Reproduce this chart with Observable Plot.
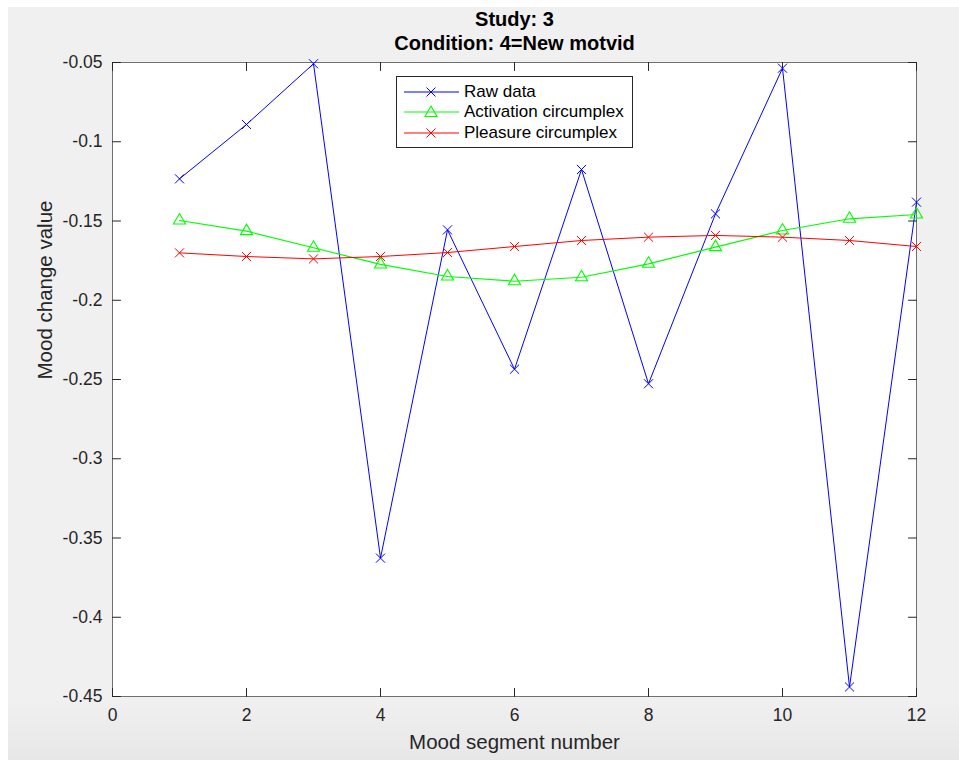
<!DOCTYPE html>
<html>
<head>
<meta charset="utf-8">
<script src="https://cdn.jsdelivr.net/npm/d3@7"></script>
<script src="https://cdn.jsdelivr.net/npm/@observablehq/plot@0.6"></script>
<style>
  html, body { margin: 0; padding: 0; background: #ffffff; }
  body { width: 959px; height: 760px; position: relative; overflow: hidden;
         font-family: "Liberation Sans", Arial, Helvetica, sans-serif; }
  #bg { position: absolute; left: 8px; top: 7px; width: 951px; height: 753px;
        background: linear-gradient(to bottom, #f0f0f0 0%, #f0f0f0 92%, #e7e7e7 100%); }
  #chart { position: absolute; left: 0; top: 0; }
  #legend { position: absolute; left: 396px; top: 76px; width: 235px; height: 70px;
            background: #ffffff; border: 1px solid #262626; font-size: 17px; color: #000; }
  .row { position: absolute; left: 0; height: 20px; width: 235px; }
  .row svg { position: absolute; left: 0; top: 0; }
  .row span { position: absolute; left: 67px; top: 0; line-height: 20px; white-space: nowrap; }
</style>
</head>
<body>
<div id="bg"></div>
<div id="chart"></div>
<div id="legend"></div>
<script>
// ---- data ----
const segments = [1, 2, 3, 4, 5, 6, 7, 8, 9, 10, 11, 12];
const rawData = [-0.1234, -0.0891, -0.0508, -0.3627, -0.1556, -0.2435, -0.1175, -0.2527, -0.1455, -0.0536, -0.4440, -0.1381];
const activation = [-0.1497, -0.1564, -0.1669, -0.1774, -0.1850, -0.1880, -0.1855, -0.1770, -0.1665, -0.1560, -0.1486, -0.1459];
const pleasure = [-0.1701, -0.1724, -0.1739, -0.1724, -0.1699, -0.1661, -0.1623, -0.1602, -0.1591, -0.1602, -0.1623, -0.1661];
const seriesNames = ["Raw data", "Activation circumplex", "Pleasure circumplex"];
const seriesColors = ["#0000ff", "#00ff00", "#ff0000"];
const xTicks = [0, 2, 4, 6, 8, 10, 12];
const xTickLabels = ["0", "2", "4", "6", "8", "10", "12"];
const yTicks = [-0.45, -0.4, -0.35, -0.3, -0.25, -0.2, -0.15, -0.1, -0.05];
const yTickLabels = ["-0.45", "-0.4", "-0.35", "-0.3", "-0.25", "-0.2", "-0.15", "-0.1", "-0.05"];
const titleLines = ["Study: 3", "Condition: 4=New motvid"];
const xLabel = "Mood segment number";
const yLabel = "Mood change value";

const rows = (vals) => segments.map((s, i) => ({x: s, y: vals[i]}));
const rawRows = rows(rawData), actRows = rows(activation), pleRows = rows(pleasure);

const tickShape = {draw(context, l) { context.moveTo(0, 0); context.lineTo(0, -l); }};
const tickColor = "#262626";
const font = "'Liberation Sans', Arial, Helvetica, sans-serif";

const chart = Plot.plot({
  width: 959, height: 760,
  marginLeft: 112, marginRight: 43, marginTop: 62, marginBottom: 64,
  style: {background: "transparent", fontFamily: font, overflow: "visible"},
  x: {domain: [0, 12], axis: null},
  y: {domain: [-0.45, -0.05], axis: null},
  marks: [
    Plot.frame({fill: "white", stroke: "#707070", strokeWidth: 1}),
    // inward ticks
    Plot.vector(xTicks, {x: d => d, y: -0.45, length: 8, rotate: 0, anchor: "start", shape: tickShape, stroke: tickColor, strokeWidth: 1}),
    Plot.vector(xTicks, {x: d => d, y: -0.05, length: 8, rotate: 180, anchor: "start", shape: tickShape, stroke: tickColor, strokeWidth: 1}),
    Plot.vector(yTicks, {x: 0, y: d => d, length: 8, rotate: 90, anchor: "start", shape: tickShape, stroke: tickColor, strokeWidth: 1}),
    Plot.vector(yTicks, {x: 12, y: d => d, length: 8, rotate: -90, anchor: "start", shape: tickShape, stroke: tickColor, strokeWidth: 1}),
    // axes labels
    Plot.axisX(xTicks, {anchor: "bottom", tickSize: 0, tickPadding: 12, tickFormat: d => xTickLabels[xTicks.indexOf(d)], fontSize: 17.5, fill: tickColor, label: null}),
    Plot.axisY(yTicks, {anchor: "left", tickSize: 0, tickPadding: 10, tickFormat: d => yTickLabels[yTicks.indexOf(d)], fontSize: 17.5, fill: tickColor, label: null}),
    // data
    Plot.line(rawRows, {x: "x", y: "y", stroke: seriesColors[0], strokeWidth: 1}),
    Plot.dot(rawRows, {x: "x", y: "y", symbol: "times", r: 4.2, stroke: seriesColors[0], strokeWidth: 1}),
    Plot.line(actRows, {x: "x", y: "y", stroke: seriesColors[1], strokeWidth: 1.2}),
    Plot.dot(actRows, {x: "x", y: "y", symbol: "triangle2", r: 5.8, stroke: seriesColors[1], strokeWidth: 1.1}),
    Plot.line(pleRows, {x: "x", y: "y", stroke: seriesColors[2], strokeWidth: 1}),
    Plot.dot(pleRows, {x: "x", y: "y", symbol: "times", r: 4.2, stroke: seriesColors[2], strokeWidth: 1}),
    // titles & axis labels
    Plot.text([titleLines[0]], {frameAnchor: "top", dy: -43, text: d => d, fontSize: 20, fontWeight: "bold", fill: "#000", lineAnchor: "middle"}),
    Plot.text([titleLines[1]], {frameAnchor: "top", dy: -19, text: d => d, fontSize: 20, fontWeight: "bold", fill: "#000", lineAnchor: "middle"}),
    Plot.text([xLabel], {frameAnchor: "bottom", dy: 46, text: d => d, fontSize: 20.5, fill: tickColor, lineAnchor: "middle"}),
    Plot.text([yLabel], {frameAnchor: "left", dx: -67, rotate: -90, text: d => d, fontSize: 20.5, fill: tickColor, lineAnchor: "middle"})
  ]
});
document.getElementById("chart").appendChild(chart);

// legend
const legend = document.getElementById("legend");
const rowTops = [5, 25, 46];
seriesNames.forEach((name, i) => {
  const row = document.createElement("div");
  row.className = "row";
  row.style.top = rowTops[i] + "px";
  const c = seriesColors[i];
  const marker = i === 1
    ? `<path d="M34,4 L40,14.5 L28,14.5 Z" fill="none" stroke="${c}" stroke-width="1.1"/>`
    : `<path d="M29.5,5.5 L38.5,14.5 M38.5,5.5 L29.5,14.5" stroke="${c}" stroke-width="1"/>`;
  row.innerHTML = `<svg width="66" height="20"><line x1="7" y1="10" x2="62" y2="10" stroke="${c}" stroke-width="1.2"/>${marker}</svg><span>${name}</span>`;
  legend.appendChild(row);
});
</script>
</body>
</html>
